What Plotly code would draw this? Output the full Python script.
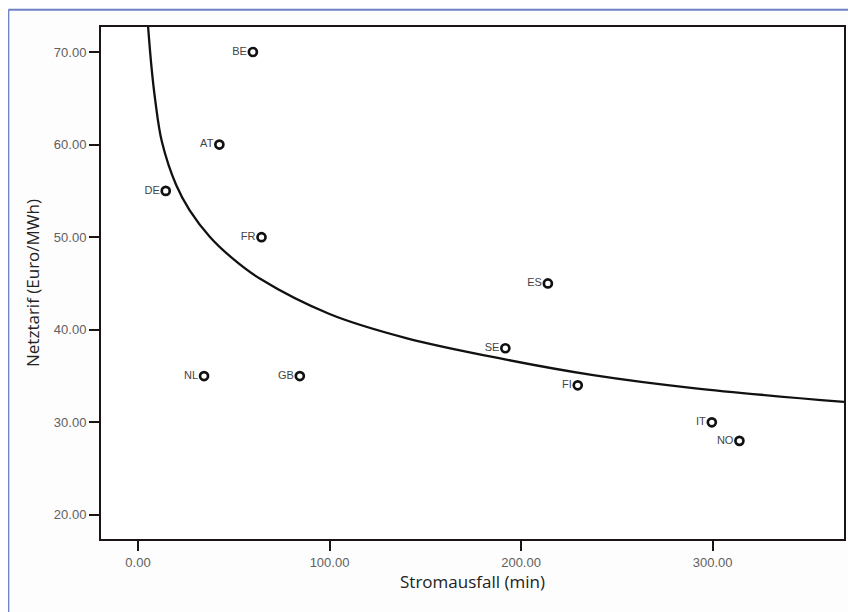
import plotly.graph_objects as go

countries = ["BE", "AT", "DE", "FR", "NL", "GB", "ES", "SE", "FI", "IT", "NO"]
outage_min = [60.0, 42.5, 14.5, 64.5, 34.5, 84.5, 214.0, 191.8, 229.6, 299.6, 314.0]
tariff_eur_mwh = [70.0, 60.0, 55.0, 50.0, 35.0, 35.0, 45.0, 38.0, 34.0, 30.0, 28.0]

# fitted curve, points
curve_x = [5.3, 7.0, 9.0, 12.5, 20.0, 27.0, 37.7, 50.0, 63.8, 100.0, 140.0, 191.6, 237.7, 289.9, 368.6]
curve_y = [72.7, 68.5, 64.8, 60.3, 55.6, 52.9, 50.0, 47.6, 45.5, 41.7, 39.1, 36.8, 35.1, 33.7, 32.2]

x_ticks = [0, 100, 200, 300]
y_ticks = [20, 30, 40, 50, 60, 70]

fig = go.Figure()
fig.add_trace(go.Scatter(
    x=curve_x, y=curve_y, mode="lines",
    line=dict(color="#111111", width=2.3, shape="spline", smoothing=1.0),
    hoverinfo="skip",
))
fig.add_trace(go.Scatter(
    x=outage_min, y=tariff_eur_mwh, mode="markers+text",
    text=countries, textposition="middle left",
    textfont=dict(family="Liberation Sans, Arial, sans-serif", size=11, color="#444444"),
    marker=dict(symbol="circle-open", size=8, color="#111111", line=dict(width=2.7, color="#111111")),
    cliponaxis=False,
))

axis_common = dict(
    showgrid=False, zeroline=False, showline=True, mirror=True,
    linecolor="#1a1414", linewidth=2,
    ticks="outside", ticklen=10, tickwidth=2, tickcolor="#1a1414",
    tickfont=dict(family="Liberation Sans, Arial, sans-serif", size=13, color="#606060"),
    title_font=dict(family="Liberation Sans Narrow, Open Sans, sans-serif", size=17, color="#222222"),
    automargin=False,
)

fig.update_xaxes(
    range=[-19.3, 368.6], tickvals=x_ticks,
    ticktext=[f"{v:.2f}" for v in x_ticks],
    title_text="Stromausfall (min)", title_standoff=8,
    **axis_common,
)
fig.update_yaxes(
    range=[17.4, 72.7], tickvals=y_ticks,
    ticktext=[f"{v:.2f}" for v in y_ticks],
    title_text="Netztarif (Euro/MWh)", title_standoff=10,
    **axis_common,
)

# blue scan border (top and left visible)
fig.add_shape(type="line", xref="paper", yref="paper",
              x0=-0.1247, x1=1.05, y0=1.0338, y1=1.0338,
              line=dict(color="#6f83c4", width=2))
fig.add_shape(type="line", xref="paper", yref="paper",
              x0=-0.1247, x1=-0.1247, y0=-0.2, y1=1.0338,
              line=dict(color="#6f83c4", width=2))

fig.update_layout(
    width=856, height=612,
    margin=dict(l=93, r=20, t=19, b=81),
    paper_bgcolor="#fdfdfd", plot_bgcolor="#ffffff",
    showlegend=False,
)

fig.write_html("out.html")
